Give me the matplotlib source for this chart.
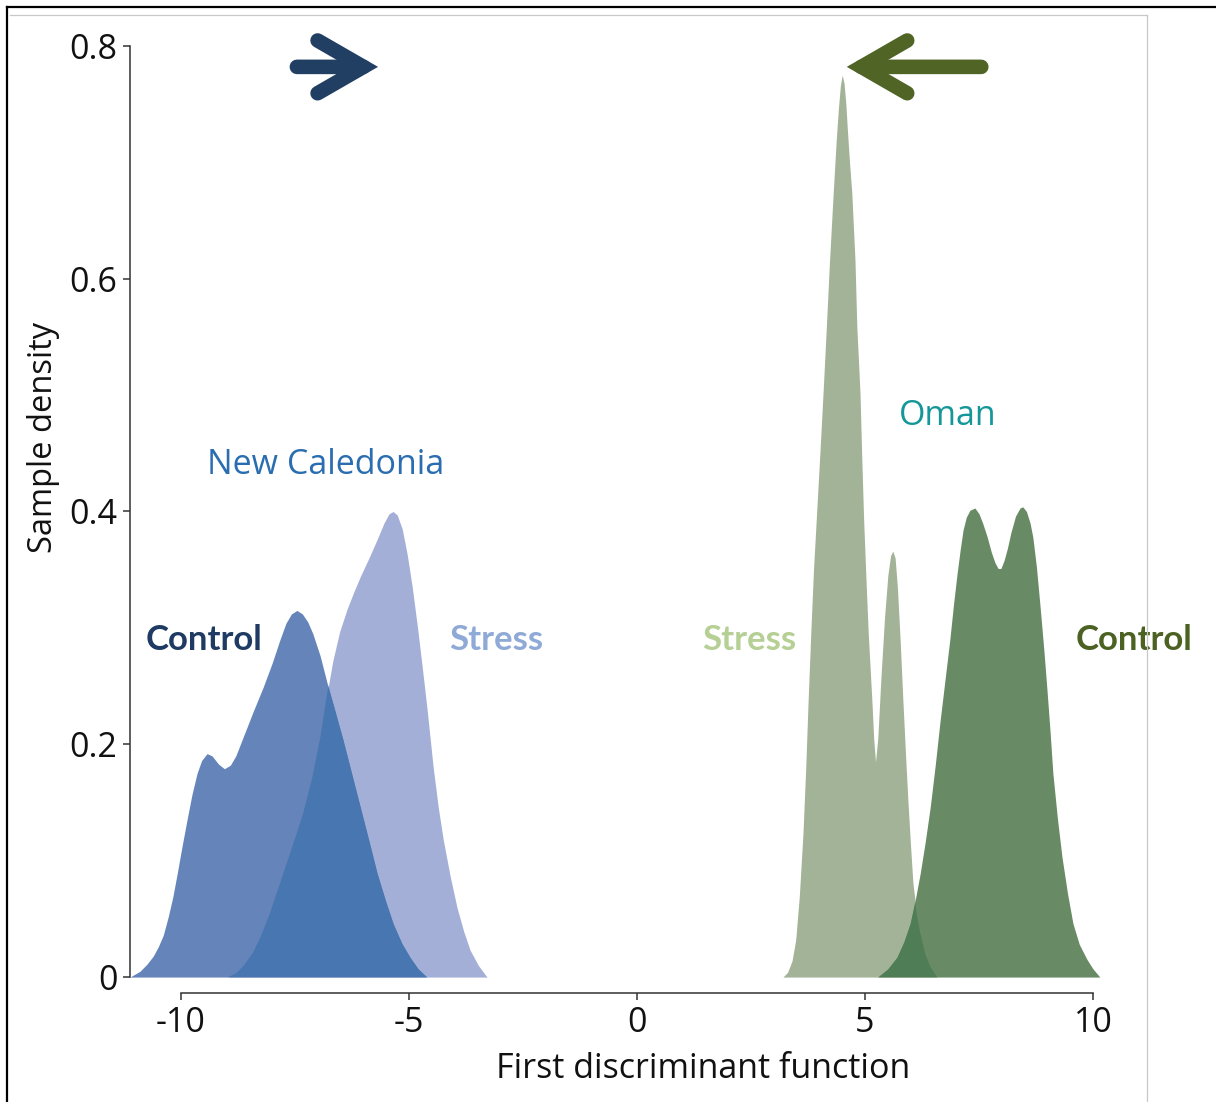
import numpy as np
import matplotlib.pyplot as plt
from matplotlib.lines import Line2D

plt.rcParams['font.family'] = ['Open Sans', 'DejaVu Sans']

# density curves (x = first discriminant, y = density)
nc_control_x = [-11.12, -10.90, -10.75, -10.61, -10.50, -10.39, -10.28, -10.18, -10.08, -9.98,
                -9.87, -9.76, -9.65, -9.55, -9.43, -9.32, -9.18, -9.05, -8.92, -8.80,
                -8.64, -8.42, -8.20, -8.00, -7.83, -7.70, -7.58, -7.46, -7.34, -7.22,
                -7.11, -6.95, -6.80, -6.62, -6.45, -6.26, -6.07, -5.88, -5.70, -5.52,
                -5.35, -5.16, -4.98, -4.80, -4.61]
nc_control_y = [0.0, 0.005, 0.011, 0.018, 0.026, 0.036, 0.052, 0.069, 0.090, 0.112,
                0.135, 0.157, 0.175, 0.186, 0.192, 0.190, 0.183, 0.179, 0.182, 0.190,
                0.206, 0.228, 0.249, 0.270, 0.290, 0.304, 0.312, 0.315, 0.312, 0.305,
                0.295, 0.276, 0.253, 0.228, 0.204, 0.175, 0.146, 0.117, 0.089, 0.066,
                0.046, 0.029, 0.017, 0.007, 0.0]

nc_stress_x = [-8.97, -8.80, -8.62, -8.42, -8.24, -8.05, -7.87, -7.68, -7.50, -7.32,
               -7.13, -6.95, -6.80, -6.67, -6.52, -6.36, -6.21, -6.07, -5.88, -5.70,
               -5.55, -5.44, -5.35, -5.26, -5.15, -5.04, -4.93, -4.82, -4.71, -4.61,
               -4.47, -4.36, -4.25, -4.10, -3.95, -3.80, -3.66, -3.48, -3.29]
nc_stress_y = [0.0, 0.003, 0.010, 0.021, 0.036, 0.055, 0.076, 0.098, 0.119, 0.141,
               0.170, 0.205, 0.243, 0.272, 0.297, 0.316, 0.331, 0.344, 0.360, 0.376,
               0.390, 0.398, 0.400, 0.397, 0.385, 0.363, 0.335, 0.302, 0.266, 0.232,
               0.180, 0.146, 0.118, 0.087, 0.060, 0.039, 0.023, 0.010, 0.0]

om_stress_x = [3.20, 3.30, 3.40, 3.48, 3.56, 3.64, 3.70, 3.75, 3.81, 3.87,
               3.94, 4.01, 4.08, 4.15, 4.22, 4.30, 4.37, 4.42, 4.46, 4.50,
               4.54, 4.58, 4.61, 4.66, 4.71, 4.78, 4.82, 4.89, 4.93, 4.97,
               5.02, 5.07, 5.15, 5.19, 5.23, 5.28, 5.35, 5.43, 5.50, 5.56,
               5.61, 5.66, 5.71, 5.77, 5.83, 5.89, 5.94, 6.00, 6.05, 6.13,
               6.21, 6.32, 6.43, 6.58]
om_stress_y = [0.0, 0.004, 0.014, 0.032, 0.070, 0.124, 0.180, 0.235, 0.295, 0.350,
               0.400, 0.450, 0.502, 0.557, 0.614, 0.672, 0.720, 0.748, 0.766, 0.775,
               0.768, 0.750, 0.730, 0.700, 0.674, 0.616, 0.559, 0.502, 0.444, 0.393,
               0.343, 0.296, 0.238, 0.205, 0.185, 0.205, 0.258, 0.310, 0.345, 0.362,
               0.366, 0.360, 0.335, 0.290, 0.238, 0.190, 0.152, 0.112, 0.081, 0.055,
               0.038, 0.020, 0.009, 0.0]

om_control_x = [5.28, 5.50, 5.70, 5.85, 5.99, 6.10, 6.21, 6.32, 6.43, 6.54,
                6.64, 6.75, 6.86, 6.94, 7.02, 7.09, 7.15, 7.22, 7.30, 7.41,
                7.50, 7.58, 7.68, 7.77, 7.85, 7.92, 7.98, 8.05, 8.12, 8.20,
                8.30, 8.40, 8.46, 8.54, 8.62, 8.68, 8.76, 8.84, 8.92, 8.99,
                9.06, 9.12, 9.22, 9.32, 9.44, 9.56, 9.70, 9.87, 10.00, 10.15]
om_control_y = [0.0, 0.007, 0.017, 0.030, 0.046, 0.066, 0.089, 0.116, 0.146, 0.182,
                0.218, 0.254, 0.290, 0.320, 0.347, 0.368, 0.384, 0.395, 0.401, 0.403,
                0.398, 0.390, 0.378, 0.365, 0.356, 0.351, 0.351, 0.358, 0.368, 0.382,
                0.396, 0.403, 0.404, 0.400, 0.390, 0.378, 0.352, 0.318, 0.282, 0.247,
                0.210, 0.175, 0.136, 0.103, 0.072, 0.046, 0.028, 0.015, 0.007, 0.0]

fig = plt.figure(figsize=(12.16, 11.02), dpi=100)
ax = fig.add_axes([0.1069, 0.0989, 0.8032, 0.870])


def pair(xs, ys, xc, yc, c_stress, c_control, c_overlap):
    s = ax.fill_between(xs, ys, color=c_stress, lw=0)
    ax.fill_between(xc, yc, color=c_control, lw=0)
    ov = ax.fill_between(xc, yc, color=c_overlap, lw=0)
    ov.set_clip_path(s.get_paths()[0], ax.transData)


pair(nc_stress_x, nc_stress_y, nc_control_x, nc_control_y, '#a3afd6', '#6585ba', '#4876b0')
pair(om_stress_x, om_stress_y, om_control_x, om_control_y, '#a3b398', '#688a64', '#4f7d55')

ax.set_xlim(-11.12, 10.3)
ax.set_ylim(-0.0137, 0.81)
for s in ['top', 'right']:
    ax.spines[s].set_visible(False)
ax.spines['left'].set_bounds(0, 0.8)
ax.spines['bottom'].set_bounds(-10, 10)
for s in ['left', 'bottom']:
    ax.spines[s].set_color('#333333')
    ax.spines[s].set_linewidth(1.1)

ax.set_xticks([-10, -5, 0, 5, 10])
ax.set_xticklabels(['-10', '-5', '0', '5', '10'])
ax.set_yticks([0, 0.2, 0.4, 0.6, 0.8])
ax.set_yticklabels(['0', '0.2', '0.4', '0.6', '0.8'])
ax.tick_params(direction='out', length=5, width=1.1, color='#333333',
               labelsize=24.5, pad=4, labelcolor='#111111')

ax.set_xlabel('First discriminant function', fontsize=24.5, color='#111111')
ax.set_ylabel('Sample density', fontsize=23.5, color='#111111')
ax.xaxis.set_label_coords(0.587, -0.062)
ax.yaxis.set_label_coords(-0.0717, 0.58)

# group labels
ax.text(-6.84, 0.44, 'New Caledonia', color='#2a6db0', fontsize=24.5, ha='center', va='center')
ax.text(6.82, 0.482, 'Oman', color='#15979a', fontsize=24.5, ha='center', va='center')
lab = dict(fontsize=25, fontweight='bold', ha='center', va='center', family=['Lato', 'DejaVu Sans'])
ax.text(-9.50, 0.29, 'Control', color='#1f3b63', **lab)
ax.text(-3.09, 0.29, 'Stress', color='#8faad6', **lab)
ax.text(2.46, 0.29, 'Stress', color='#b5cf95', **lab)
ax.text(10.90, 0.29, 'Control', color='#4b6223', **lab)

# direction arrows
for tail, tip, col in [(-7.46, -5.68, '#213e63'), (7.55, 4.60, '#4f6425')]:
    ax.annotate('', xy=(tip, 0.782), xytext=(tail, 0.782), annotation_clip=False,
                arrowprops=dict(arrowstyle='->,head_length=3.3,head_width=1.9',
                                mutation_scale=10, lw=10.5, color=col, capstyle='round',
                                joinstyle='miter', shrinkA=0, shrinkB=0))

# page frame
fig.add_artist(Line2D([0.0058, 1.0], [0.9936, 0.9936], color='black', lw=1.6))
fig.add_artist(Line2D([0.0058, 0.0058], [0.0, 0.9936], color='black', lw=1.6))
fig.add_artist(Line2D([0.008, 0.9433], [0.9864, 0.9864], color='#c8c8c8', lw=0.9))
fig.add_artist(Line2D([0.9433, 0.9433], [0.0, 0.9864], color='#c8c8c8', lw=0.9))

fig.savefig('out.png', dpi=100)
